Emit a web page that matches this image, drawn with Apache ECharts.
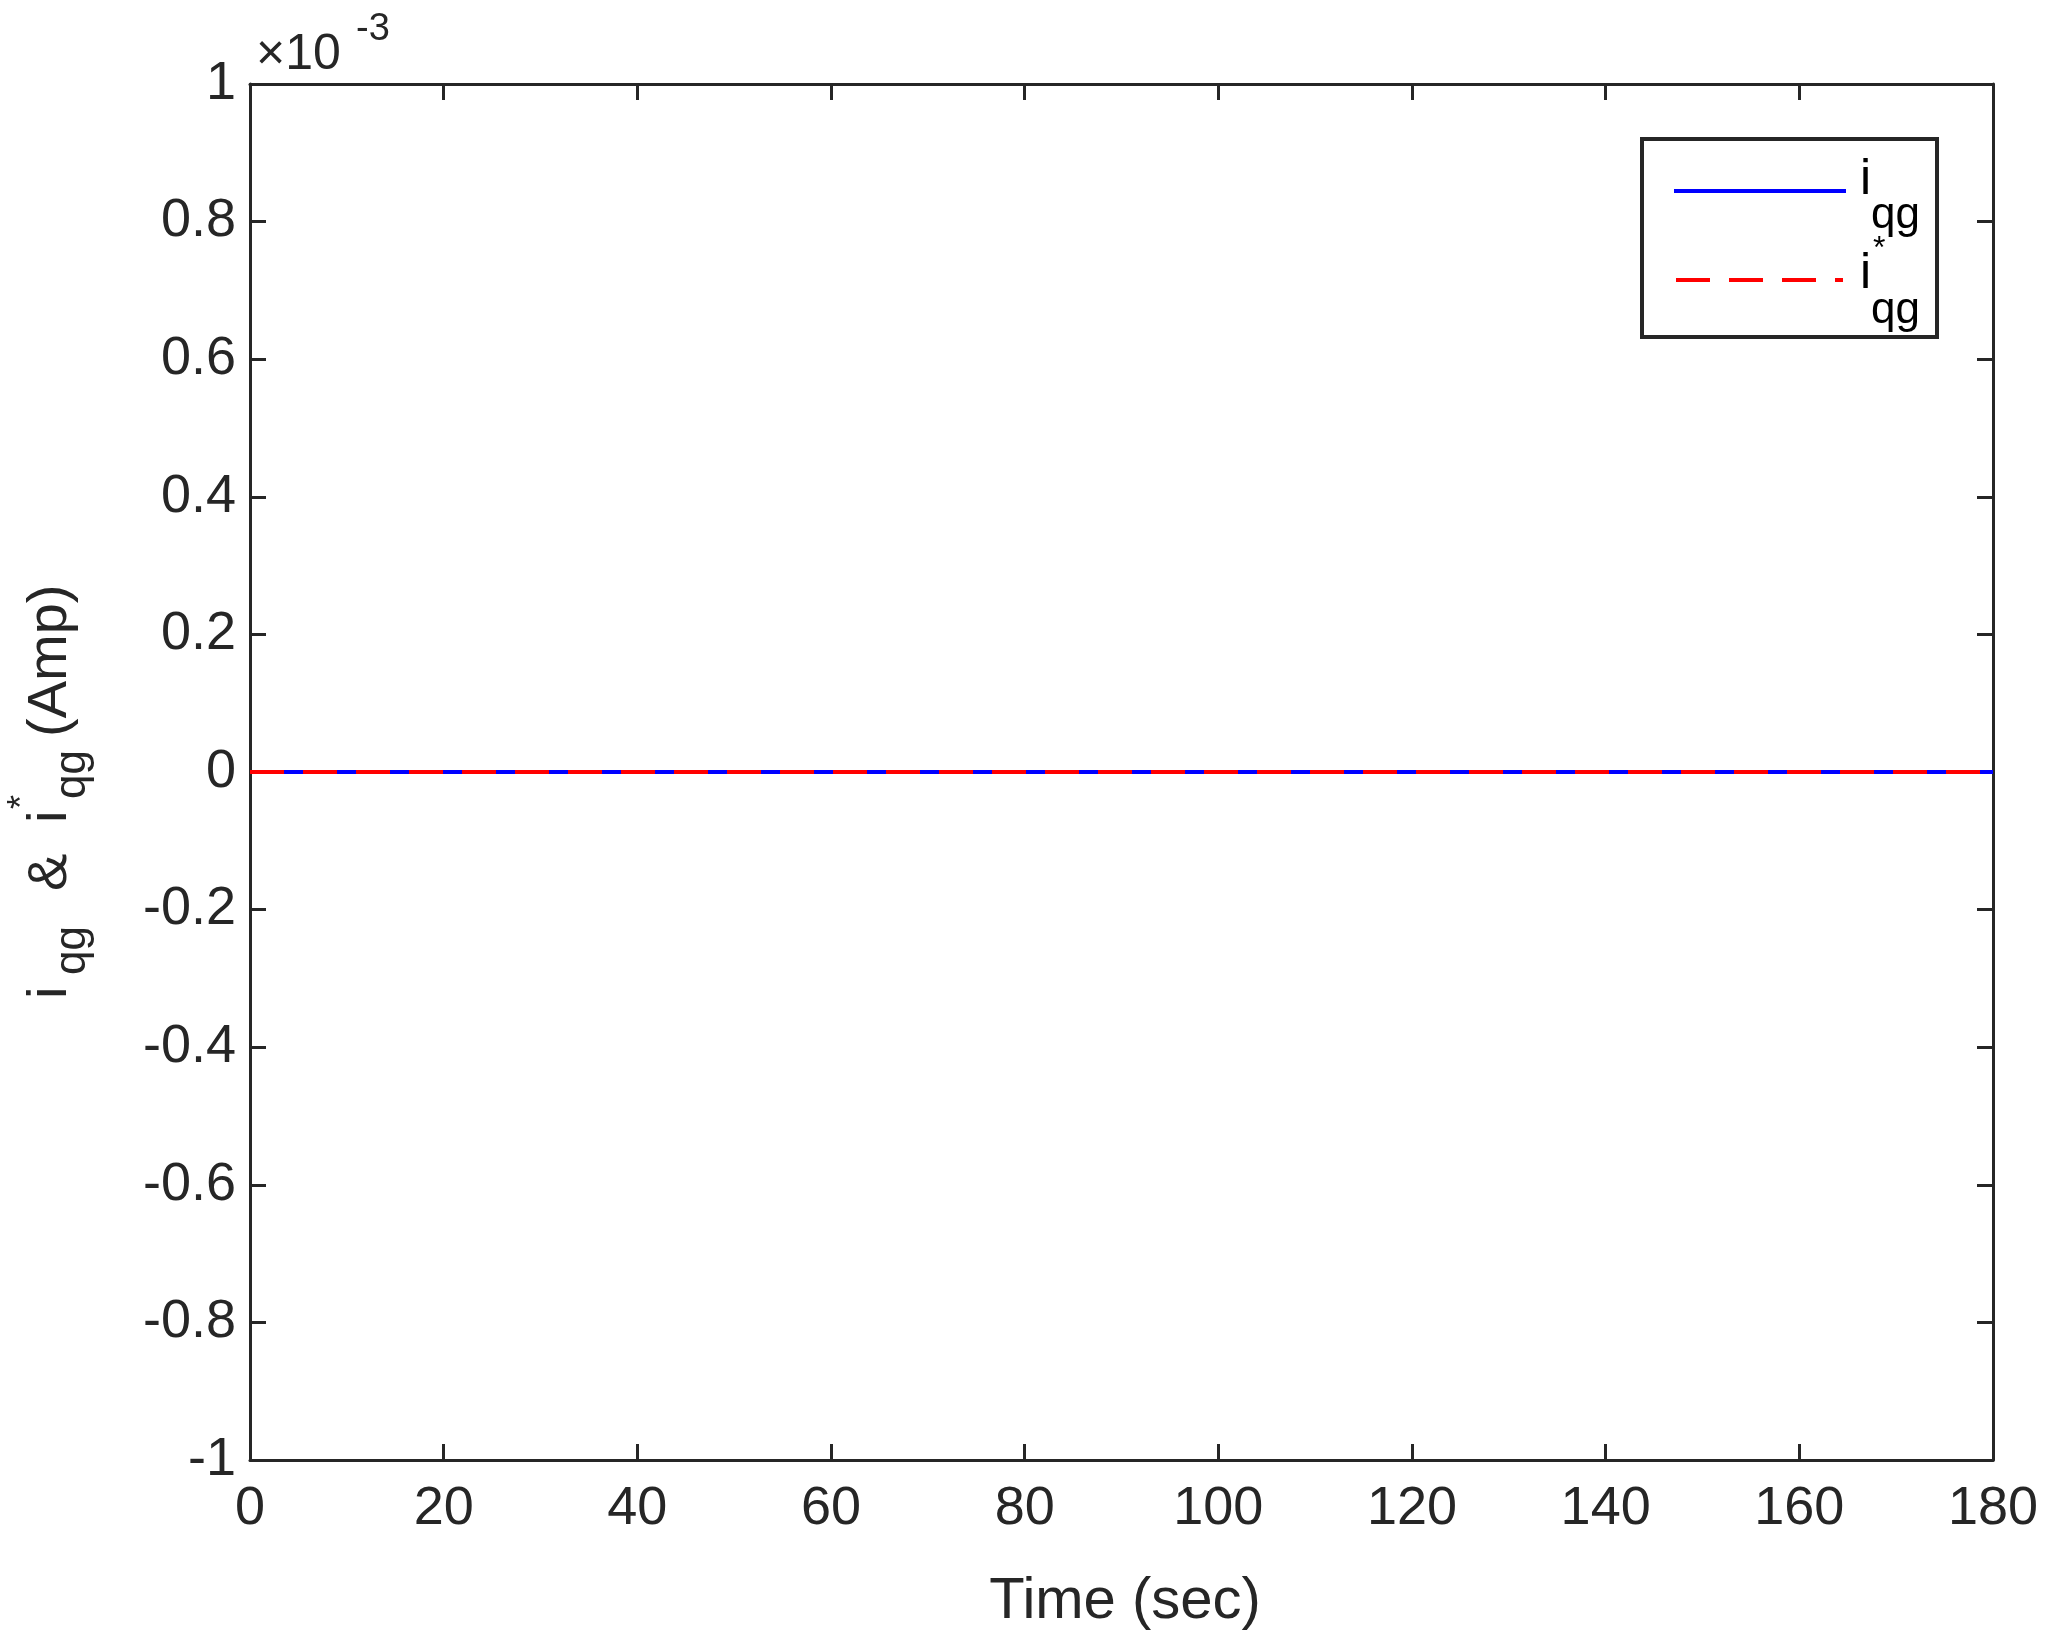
<!DOCTYPE html>
<html>
<head>
<meta charset="utf-8">
<script src="https://cdn.jsdelivr.net/npm/echarts@6/dist/echarts.min.js"></script>
<style>
	html, body { margin: 0; padding: 0; background: #fff; }
	#chart { width: 2051px; height: 1644px; }
</style>
</head>
<body>
<div id="chart"></div>
<script type="text/javascript">
	// 数据 (单位: A)
	var timeSec = [0, 180];
	var iqg = [0, 0];
	var iqgRef = [0, 0];
	var xTicks = [0, 20, 40, 60, 80, 100, 120, 140, 160, 180];
	var yTicks = [-1, -0.8, -0.6, -0.4, -0.2, 0, 0.2, 0.4, 0.6, 0.8, 1]; // ×10^-3

	var ink = '#262626';
	var font = 'Liberation Sans';

	function pairs(xs, ys) {
		return xs.map(function (x, i) { return [x, ys[i]]; });
	}
	function axisX(pos, show) {
		return {
			type: 'value', position: pos, min: xTicks[0], max: xTicks[xTicks.length - 1], interval: 20,
			axisLine: { show: true, onZero: false, lineStyle: { color: ink, width: 3 } },
			axisTick: { show: true, inside: true, length: 16, lineStyle: { color: ink, width: 3 } },
			axisLabel: { show: show, color: ink, fontSize: 54, fontFamily: font, margin: 22 },
			splitLine: { show: false }
		};
	}
	function axisY(pos, show) {
		return {
			type: 'value', position: pos, min: yTicks[0] / 1000, max: yTicks[yTicks.length - 1] / 1000, interval: 0.0002,
			axisLine: { show: true, onZero: false, lineStyle: { color: ink, width: 3 } },
			axisTick: { show: true, inside: true, length: 16, lineStyle: { color: ink, width: 3 } },
			axisLabel: {
				show: show, color: ink, fontSize: 54, fontFamily: font, margin: 14,
				formatter: function (v) { return String(Math.round(v * 1e4) / 10); }
			},
			splitLine: { show: false }
		};
	}
	function txt(x, y, s, size, extra) {
		var st = { text: s, font: size + 'px "' + font + '"', fill: extra && extra.fill || '#000', textVerticalAlign: 'middle' };
		return { type: 'text', x: x, y: y, style: st };
	}

	var myChart = echarts.init(document.getElementById('chart'));
	var option = {
		backgroundColor: '#fff',
		animation: false,
		grid: { left: 250, right: 58, top: 84, bottom: 184 },
		xAxis: [axisX('bottom', true), axisX('top', false)],
		yAxis: [axisY('left', true), axisY('right', false)],
		series: [
			{ name: 'iqg', type: 'line', showSymbol: false, data: pairs(timeSec, iqg),
			  lineStyle: { color: '#0000ff', width: 4 } },
			{ name: 'iqg*', type: 'line', showSymbol: false, data: pairs(timeSec, iqgRef),
			  lineStyle: { color: '#ff0000', width: 4, type: [34, 19] } }
		],
		graphic: [
			// x轴标题
			{ type: 'text', x: 1125, y: 1602, style: { text: 'Time (sec)', font: '58px "' + font + '"', fill: ink, textAlign: 'center', textVerticalAlign: 'middle' } },
			// ×10^-3
			{ type: 'text', x: 256, y: 55, style: { text: '\u00d710', font: '50px "' + font + '"', fill: ink, textVerticalAlign: 'middle' } },
			{ type: 'text', x: 356, y: 30, style: { text: '-3', font: '38px "' + font + '"', fill: ink, textVerticalAlign: 'middle' } },
			// y轴标题 (旋转)
			{ type: 'group', x: 59, y: 999, rotation: Math.PI / 2, children: [
				txt(0, -8, 'i', 56, { fill: ink }),
				txt(24, 14, 'qg', 44, { fill: ink }),
				txt(108, -8, '&', 56, { fill: ink }),
				txt(176, -8, 'i', 56, { fill: ink }),
				txt(190, -36, '*', 36, { fill: ink }),
				txt(200, 14, 'qg', 44, { fill: ink }),
				txt(262, -8, '(Amp)', 56, { fill: ink })
			] },
			// 图例
			{ type: 'rect', shape: { x: 1642, y: 139, width: 295, height: 198 }, style: { fill: '#fff', stroke: ink, lineWidth: 4 } },
			{ type: 'line', shape: { x1: 1674, y1: 191, x2: 1846, y2: 191 }, style: { stroke: '#0000ff', lineWidth: 4 } },
			{ type: 'line', shape: { x1: 1676, y1: 280, x2: 1846, y2: 280 }, style: { stroke: '#ff0000', lineWidth: 4, lineDash: [34, 19, 34, 19, 34, 19, 8, 100] } },
			txt(1860, 180, 'i', 50),
			txt(1871, 216, 'qg', 44),
			txt(1873, 249, '*', 32),
			txt(1860, 274, 'i', 50),
			txt(1871, 311, 'qg', 44)
		]
	};
	myChart.setOption(option);
</script>
</body>
</html>
